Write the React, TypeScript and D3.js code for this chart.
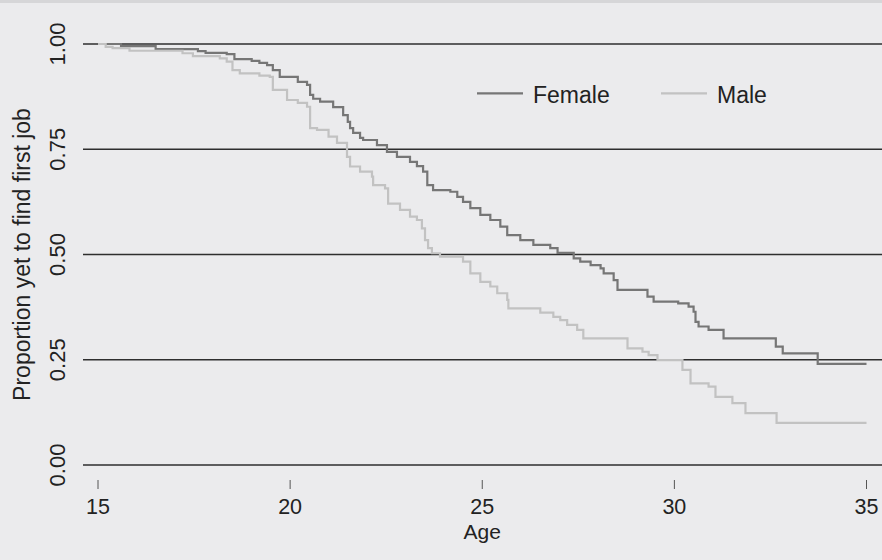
import React from 'react';
import * as d3 from 'd3';

// Kaplan-Meier style step estimates
const femaleAge = [15, 15.6, 16.5, 17.6, 17.8, 18.35, 18.55, 19.0, 19.2, 19.4, 19.55, 19.73, 20.2, 20.44, 20.52, 20.6, 20.78, 21.12, 21.38, 21.5, 21.56, 21.64, 21.82, 21.9, 22.26, 22.52, 22.78, 23.12, 23.3, 23.46, 23.57, 23.72, 24.17, 24.35, 24.5, 24.69, 24.95, 25.21, 25.47, 25.65, 25.99, 26.33, 26.77, 26.96, 27.38, 27.55, 27.82, 28.08, 28.16, 28.42, 28.52, 29.3, 29.46, 30.1, 30.37, 30.5, 30.55, 30.63, 30.89, 31.28, 32.64, 32.82, 33.73, 35];
const femaleSurv = [1.0, 0.995, 0.988, 0.983, 0.979, 0.976, 0.964, 0.96, 0.955, 0.95, 0.938, 0.922, 0.91, 0.903, 0.879, 0.87, 0.863, 0.85, 0.831, 0.815, 0.8, 0.789, 0.777, 0.772, 0.76, 0.744, 0.732, 0.72, 0.71, 0.697, 0.665, 0.653, 0.649, 0.637, 0.625, 0.61, 0.594, 0.582, 0.566, 0.546, 0.534, 0.523, 0.515, 0.504, 0.491, 0.483, 0.475, 0.467, 0.455, 0.439, 0.416, 0.4, 0.388, 0.384, 0.376, 0.364, 0.34, 0.329, 0.321, 0.301, 0.281, 0.265, 0.24, 0.24];

const maleAge = [15, 15.2, 15.38, 15.82, 17.2, 17.47, 18.17, 18.35, 18.5, 18.69, 19.2, 19.47, 19.55, 19.92, 20.2, 20.44, 20.52, 20.7, 21.0, 21.22, 21.48, 21.56, 21.82, 22.13, 22.16, 22.47, 22.55, 22.86, 23.12, 23.3, 23.43, 23.51, 23.59, 23.69, 23.9, 24.5, 24.69, 24.95, 25.21, 25.39, 25.65, 25.68, 26.51, 26.85, 27.03, 27.21, 27.47, 27.63, 28.78, 29.17, 29.33, 29.56, 30.21, 30.42, 30.89, 31.07, 31.51, 31.85, 32.66, 35];
const maleSurv = [1.0, 0.993, 0.99, 0.984, 0.978, 0.971, 0.966, 0.958, 0.938, 0.93, 0.925, 0.922, 0.891, 0.867, 0.86, 0.851, 0.8, 0.796, 0.78, 0.765, 0.732, 0.709, 0.697, 0.685, 0.665, 0.657, 0.621, 0.606, 0.59, 0.582, 0.562, 0.534, 0.515, 0.503, 0.495, 0.483, 0.455, 0.435, 0.424, 0.408, 0.392, 0.372, 0.362, 0.352, 0.344, 0.333, 0.321, 0.301, 0.277, 0.269, 0.261, 0.249, 0.226, 0.194, 0.186, 0.162, 0.147, 0.123, 0.1, 0.1];

const xTicks = [15, 20, 25, 30, 35];
const yTicks = [0, 0.25, 0.5, 0.75, 1];
const seriesNames = ['Female', 'Male'];
const seriesColors = ['#767676', '#c2c2c2'];

const W = 882;
const H = 560;
const FONT = '"Liberation Sans", Arial, sans-serif';

const App = () => {
  const x = d3.scaleLinear().domain([15, 35]).range([98, 866.5]);
  const y = d3.scaleLinear().domain([0, 1]).range([465, 44]);

  const line = d3
    .line<[number, number]>()
    .x((d) => x(d[0]))
    .y((d) => y(d[1]))
    .curve(d3.curveStepAfter);

  const series = [
    femaleAge.map((a, i) => [a, femaleSurv[i]] as [number, number]),
    maleAge.map((a, i) => [a, maleSurv[i]] as [number, number]),
  ];

  return (
    <svg
      width={W}
      height={H}
      style={{ position: 'absolute', left: 0, top: 0, display: 'block' }}
      fontFamily={FONT}
    >
      <rect x={0} y={0} width={W} height={H} fill="#ebebed" />
      <rect x={0} y={0} width={W} height={3} fill="#d6d6d8" />

      {/* horizontal grid lines */}
      {yTicks.map((t) => (
        <line key={'g' + t} x1={83} x2={W} y1={y(t)} y2={y(t)} stroke="#2e2e2e" strokeWidth={1.3} />
      ))}

      {/* y tick labels, rotated */}
      {yTicks.map((t) => (
        <text
          key={'yl' + t}
          transform={`translate(65,${y(t)}) rotate(-90)`}
          textAnchor="middle"
          fontSize={22}
          fill="#222"
        >
          {t.toFixed(2)}
        </text>
      ))}

      {/* x ticks */}
      {xTicks.map((t) => (
        <g key={'x' + t}>
          <line x1={x(t)} x2={x(t)} y1={480} y2={489} stroke="#555" strokeWidth={1} />
          <text x={x(t)} y={514} textAnchor="middle" fontSize={21.5} fill="#222">
            {t}
          </text>
        </g>
      ))}

      <text x={x(25)} y={538.5} textAnchor="middle" fontSize={21} fill="#222">
        Age
      </text>
      <text
        transform={`translate(30,${(y(0) + y(1)) / 2}) rotate(-90)`}
        textAnchor="middle"
        fontSize={23}
        fill="#222"
      >
        Proportion yet to find first job
      </text>

      {/* survival curves */}
      {series.map((s, i) => (
        <path key={'s' + i} d={line(s) || ''} fill="none" stroke={seriesColors[i]} strokeWidth={2.2} />
      ))}

      {/* legend */}
      {seriesNames.map((name, i) => {
        const lx = i === 0 ? 477 : 661;
        return (
          <g key={'lg' + name}>
            <line x1={lx} x2={lx + 46} y1={93.3} y2={93.3} stroke={seriesColors[i]} strokeWidth={2.2} />
            <text x={lx + 56} y={103.3} fontSize={23} fill="#222">
              {name}
            </text>
          </g>
        );
      })}
    </svg>
  );
};

export default App;
